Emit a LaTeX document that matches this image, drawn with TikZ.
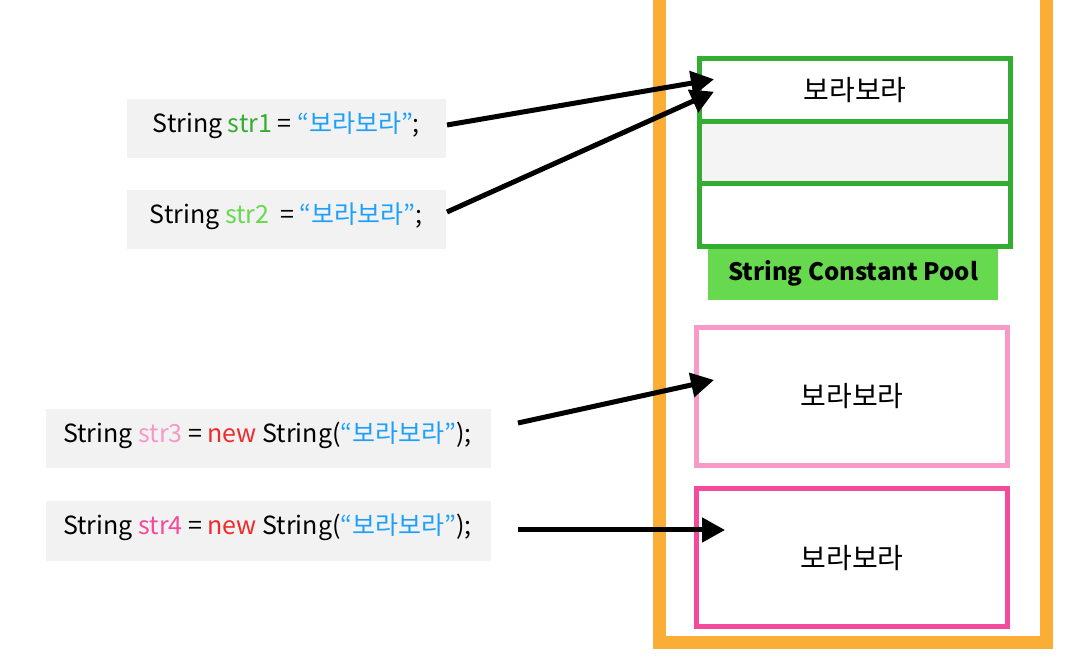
\documentclass[tikz,border=0pt]{standalone}
\usepackage{fontspec}
\setmainfont{Noto Sans CJK KR}
\usepackage{tikz}
\usetikzlibrary{arrows.meta}

\definecolor{heaporange}{RGB}{251,174,54}
\definecolor{poolgreen}{RGB}{51,174,51}
\definecolor{poollabel}{RGB}{102,217,79}
\definecolor{codegray}{RGB}{242,242,242}
\definecolor{cellgray}{RGB}{244,244,244}
\definecolor{strblue}{RGB}{30,160,250}
\definecolor{newred}{RGB}{238,43,43}
\definecolor{lightpink}{RGB}{248,153,200}
\definecolor{hotpink}{RGB}{245,74,155}

\tikzset{
  codebox/.style={fill=codegray, inner sep=0pt},
  codetext/.style={font=\fontsize{12.5}{15}\selectfont, inner sep=0pt},
  poolcell/.style={draw=poolgreen, line width=2.5pt, minimum width=311*0.5pt,
    minimum height=62.5*0.5pt, inner sep=0pt, font=\fontsize{14}{17}\selectfont},
  objbox/.style={line width=2.5pt, fill=white, minimum width=311*0.5pt,
    minimum height=138*0.5pt, inner sep=0pt, font=\fontsize{14}{17}\selectfont},
  ref/.style={line width=2.5pt, -{Triangle[length=11.5pt, width=12pt]}}
}

\begin{document}
\begin{tikzpicture}[x=0.5pt, y=-0.5pt]
  \useasboundingbox (0,0) rectangle (1072,662);
  % Heap area, open at the top
  \draw[heaporange, line width=6.5pt] (659.5,-20) -- (659.5,643) -- (1046,643) -- (1046,-20);

  % Code on the left
  \node[codebox, minimum width=319*0.5pt, minimum height=59*0.5pt] (code1) at (286.3,128.7) {};
  \node[codebox, minimum width=319*0.5pt, minimum height=59*0.5pt] (code2) at (286.3,219.3) {};
  \node[codebox, minimum width=445*0.5pt, minimum height=59*0.5pt] (code3) at (268.7,438.7) {};
  \node[codebox, minimum width=445*0.5pt, minimum height=60*0.5pt] (code4) at (268.7,530.7) {};
  \node[codetext] (txt1) at (286.3,125) {String \textcolor{poolgreen}{str1} = \textcolor{strblue}{“보라보라”};};
  \node[codetext] (txt2) at (286.3,216) {String \textcolor{poollabel}{str2}\ \ = \textcolor{strblue}{“보라보라”};};
  \node[codetext] (txt3) at (267.5,435) {String \textcolor{lightpink}{str3} = \textcolor{newred}{new} String(\textcolor{strblue}{“보라보라”});};
  \node[codetext] (txt4) at (267.5,527) {String \textcolor{hotpink}{str4} = \textcolor{newred}{new} String(\textcolor{strblue}{“보라보라”});};

  % String Constant Pool
  \node[fill=poollabel, minimum width=290*0.5pt, minimum height=54*0.5pt, inner sep=0pt,
    font=\fontsize{12}{15}\selectfont\bfseries] (poolname) at (853,273) {String Constant Pool};
  \node[poolcell, fill=white] (cell1) at (855,89.9) {보라보라};
  \node[poolcell, fill=cellgray] (cell2) at (855,152.4) {};
  \node[poolcell, fill=white] (cell3) at (855,214.9) {};

  % Objects made with new
  \node[objbox, draw=lightpink] (obj1) at (852.2,396.3) {보라보라};
  \node[objbox, draw=hotpink] (obj2) at (852.2,558) {보라보라};

  % References
  \coordinate (s1) at (447,125);
  \coordinate (s2) at (447,212);
  \coordinate (s3) at (518,423);
  \coordinate (s4) at (518,530);
  \coordinate (t1) at (714,79.3);
  \coordinate (t2) at (714,91.7);
  \coordinate (t3) at (714,380);
  \coordinate (t4) at (725,530);
  \draw[ref] (s1) -- (t1);
  \draw[ref] (s2) -- (t2);
  \draw[ref] (s3) -- (t3);
  \draw[ref] (s4) -- (t4);
\end{tikzpicture}
\end{document}
